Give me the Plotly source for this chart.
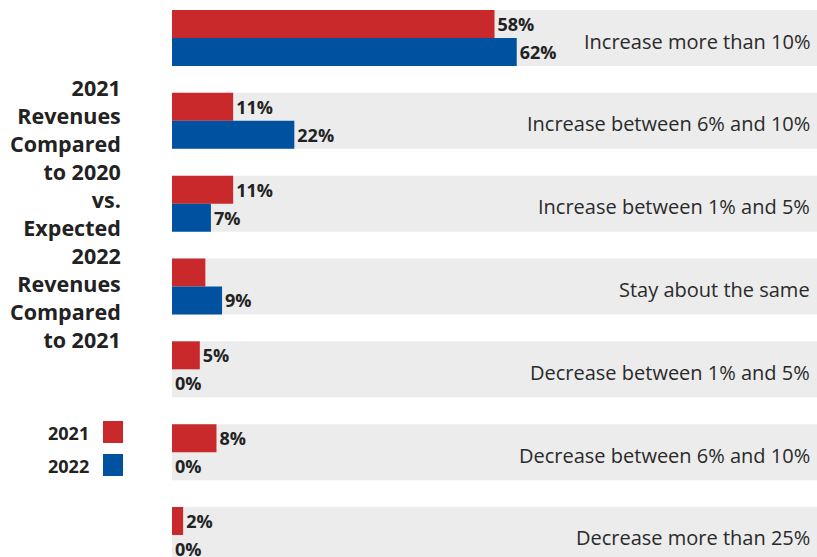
import plotly.graph_objects as go

categories = [
    "Increase more than 10%",
    "Increase between 6% and 10%",
    "Increase between 1% and 5%",
    "Stay about the same",
    "Decrease between 1% and 5%",
    "Decrease between 6% and 10%",
    "Decrease more than 25%",
]
values_2021 = [58, 11, 11, 6, 5, 8, 2]
values_2022 = [62, 22, 7, 9, 0, 0, 0]
labels_2021 = ["58%", "11%", "11%", "", "5%", "8%", "2%"]
labels_2022 = ["62%", "22%", "7%", "9%", "0%", "0%", "0%"]
series_names = ["2021", "2022"]
title_text = ("2021<br>Revenues<br>Compared<br>to 2020<br>vs.<br>Expected<br>2022<br>"
              "Revenues<br>Compared<br>to 2021")

RED = "#C9292B"
BLUE = "#0051A0"
GRAY = "#ECECEC"
TXT = "#222222"
FONT = "Open Sans"

fig = go.Figure()
for name, vals, labs, col in [(series_names[0], values_2021, labels_2021, RED),
                              (series_names[1], values_2022, labels_2022, BLUE)]:
    fig.add_trace(go.Bar(
        y=categories, x=vals, orientation="h", name=name,
        marker=dict(color=col, line=dict(width=0)),
        text=labs, textposition="outside", cliponaxis=False,
        textfont=dict(family=FONT, size=18, color=TXT, weight="bold"),
        showlegend=False, hoverinfo="skip",
    ))

group = 0.676
for i, c in enumerate(categories):
    fig.add_shape(type="rect", xref="paper", yref="y", x0=0, x1=1,
                  y0=i - group / 2, y1=i + group / 2,
                  fillcolor=GRAY, line=dict(width=0), layer="below")
    fig.add_annotation(x=0.9915, xref="paper", y=i, yref="y", text=c,
                       showarrow=False, xanchor="right", yanchor="middle", yshift=-3,
                       font=dict(family=FONT, size=20, color="#2a2a2a"))

# title
fig.add_annotation(x=-0.076, xref="paper", y=1 - 213.5 / 557, yref="paper", text=title_text,
                   showarrow=False, xanchor="right", yanchor="middle", align="right",
                   font=dict(family=FONT, size=21.5, color=TXT, weight="bold"))

# legend
for k, (name, col) in enumerate([(series_names[0], RED), (series_names[1], BLUE)]):
    ytop = 421 + k * 33
    fig.add_shape(type="rect", xref="paper", yref="paper",
                  x0=(103 - 172) / 645, x1=(123 - 172) / 645,
                  y0=1 - (ytop + 22) / 557, y1=1 - ytop / 557,
                  fillcolor=col, line=dict(width=0))
    fig.add_annotation(x=(91 - 172) / 645, xref="paper", y=1 - (ytop + 12) / 557, yref="paper",
                       text=name, showarrow=False, xanchor="right", yanchor="middle",
                       font=dict(family=FONT, size=18, color=TXT, weight="bold"))

fig.update_layout(
    width=817, height=557,
    margin=dict(l=172, r=0, t=0, b=0),
    barmode="group", bargap=1 - group, bargroupgap=0,
    plot_bgcolor="white", paper_bgcolor="white",
    xaxis=dict(range=[0, 116], visible=False, fixedrange=True),
    yaxis=dict(range=[6.266, -0.459], visible=False, fixedrange=True),
)

fig.write_html("out.html", config={"displayModeBar": False},
               post_script="document.body.style.margin='0';document.body.style.overflow='hidden';")
